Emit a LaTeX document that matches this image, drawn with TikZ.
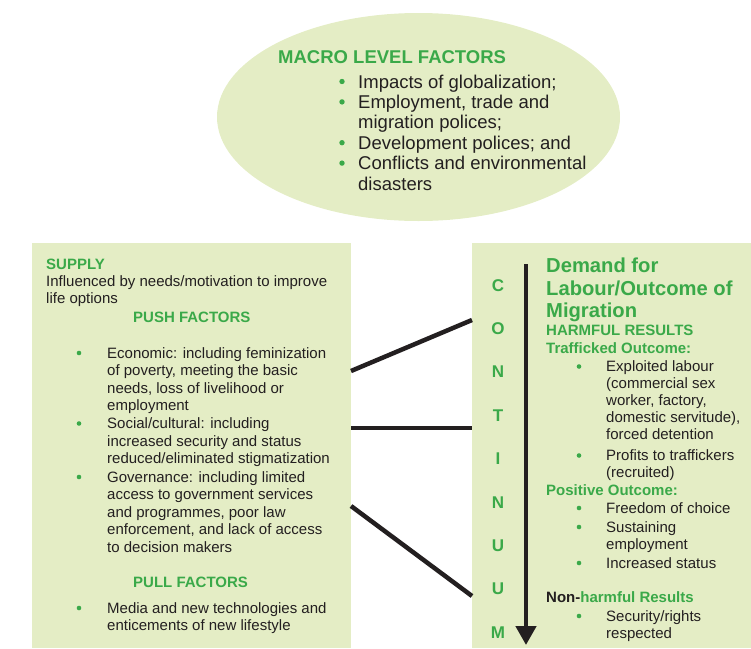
\documentclass[tikz,border=0pt]{standalone}
\usepackage{fontspec}
\setmainfont{Liberation Sans}
\usetikzlibrary{shapes.geometric,arrows.meta}
\definecolor{boxfill}{HTML}{E4EDC5}
\definecolor{lgreen}{HTML}{3AA949}
\definecolor{ink}{HTML}{231F20}
\begin{document}
\begin{tikzpicture}[x=1pt,y=-1pt,
  txt/.style={inner sep=0pt, anchor=base west, text=ink, font=\fontsize{15}{18}\selectfont},
  hd/.style={txt, text=lgreen, font=\fontsize{15}{18}\selectfont\bfseries},
  big/.style={txt, text=lgreen, font=\fontsize{20.2}{24}\selectfont\bfseries},
  etxt/.style={txt, font=\fontsize{18.5}{21}\selectfont},
  ehd/.style={txt, text=lgreen, font=\fontsize{18.5}{21}\selectfont\bfseries},
  letter/.style={inner sep=0pt, anchor=base, text=lgreen, font=\fontsize{17}{19}\selectfont\bfseries},
  panel/.style={fill=boxfill, draw=none, inner sep=0pt, anchor=north west},
  link/.style={draw=ink, line width=4.5pt},
  arr/.style={draw=ink, line width=4.5pt, -{Triangle[width=20pt,length=19pt]}},
  dot/.style={fill=lgreen}]

\useasboundingbox (0,0) rectangle (751,648);

% shapes
\node[ellipse, fill=boxfill, draw=none, minimum width=403pt, minimum height=208pt, inner sep=0pt] (macro) at (418.5,117) {};
\node[panel, minimum width=319pt, minimum height=405pt] (supply) at (32,243) {};
\node[panel, minimum width=279pt, minimum height=405pt] (demand) at (472,243) {};

% ellipse text
\node[ehd] (macrohd) at (278,63) {MACRO LEVEL FACTORS};
\node[etxt] (m1) at (358,88) {Impacts of globalization;};
\node[etxt] (m2) at (358,108.4) {Employment, trade and};
\node[etxt] (m3) at (358,128.8) {migration polices;};
\node[etxt] (m4) at (358,149.2) {Development polices; and};
\node[etxt] (m5) at (358,169.6) {Conflicts and environmental};
\node[etxt] (m6) at (358,190) {disasters};
\fill[dot] (342,81.5) circle (2.7);
\fill[dot] (342,101.9) circle (2.7);
\fill[dot] (342,142.7) circle (2.7);
\fill[dot] (342,163.1) circle (2.7);

% left panel text
\node[hd] (supplyhd) at (46,269) {SUPPLY};
\node[txt] (infl1) at (46,286.5) {Influenced by needs/motivation to improve};
\node[txt] (infl2) at (46,303) {life options};
\node[hd] (pushhd) at (133,322) {PUSH FACTORS};
\node[txt] (p1) at (107,358) {Economic: including feminization};
\node[txt] (p2) at (107,375.5) {of poverty, meeting the basic};
\node[txt] (p3) at (107,393) {needs, loss of livelihood or};
\node[txt] (p4) at (107,410.5) {employment};
\node[txt] (p5) at (107,428.5) {Social/cultural: including};
\node[txt] (p6) at (107,446) {increased security and status};
\node[txt] (p7) at (107,463.5) {reduced/eliminated stigmatization};
\node[txt] (p8) at (107,482) {Governance: including limited};
\node[txt] (p9) at (107,499.5) {access to government services};
\node[txt] (p10) at (107,517) {and programmes, poor law};
\node[txt] (p11) at (107,534.5) {enforcement, and lack of access};
\node[txt] (p12) at (107,552) {to decision makers};
\node[hd] (pullhd) at (133,587) {PULL FACTORS};
\node[txt] (q1) at (107,613) {Media and new technologies and};
\node[txt] (q2) at (107,630) {enticements of new lifestyle};
\fill[dot] (79,353) circle (2.3);
\fill[dot] (79,423.5) circle (2.3);
\fill[dot] (79,477) circle (2.3);
\fill[dot] (79,608) circle (2.3);

% right panel text
\node[big] (d1) at (546,272.5) {Demand for};
\node[big] (d2) at (546,295) {Labour/Outcome of};
\node[big] (d3) at (546,317.5) {Migration};
\node[hd] (harmhd) at (546,335) {HARMFUL RESULTS};
\node[hd] (traffhd) at (546,353) {Trafficked Outcome:};
\node[txt] (t1) at (606,371.5) {Exploited labour};
\node[txt] (t2) at (606,388.5) {(commercial sex};
\node[txt] (t3) at (606,405.5) {worker, factory,};
\node[txt] (t4) at (606,422.5) {domestic servitude),};
\node[txt] (t5) at (606,439.5) {forced detention};
\node[txt] (t6) at (606,460.5) {Profits to traffickers};
\node[txt] (t7) at (606,477) {(recruited)};
\node[hd] (poshd) at (546,495) {Positive Outcome:};
\node[txt] (o1) at (606,513) {Freedom of choice};
\node[txt] (o2) at (606,532) {Sustaining};
\node[txt] (o3) at (606,549) {employment};
\node[txt] (o4) at (606,568) {Increased status};
\node[hd] (nonhd) at (546,602) {\textcolor{ink}{Non-}harmful Results};
\node[txt] (n1) at (606,621) {Security/rights};
\node[txt] (n2) at (606,638) {respected};
\fill[dot] (579,366.5) circle (2.3);
\fill[dot] (579,455.5) circle (2.3);
\fill[dot] (579,508) circle (2.3);
\fill[dot] (579,527) circle (2.3);
\fill[dot] (579,563) circle (2.3);
\fill[dot] (579,616) circle (2.3);

% continuum letters
\node[letter] (c1) at (498,291) {C};
\node[letter] (c2) at (498,334.4) {O};
\node[letter] (c3) at (498,377.8) {N};
\node[letter] (c4) at (498,421.2) {T};
\node[letter] (c5) at (498,464.6) {I};
\node[letter] (c6) at (498,508) {N};
\node[letter] (c7) at (498,551.4) {U};
\node[letter] (c8) at (498,594.8) {U};
\node[letter] (c9) at (498,638.2) {M};

% continuum arrow
\coordinate (atop) at (526,264);
\coordinate (abot) at (526,645);
\draw[arr] (atop) -- (abot);

% connectors
\coordinate (s1) at (351,371);
\coordinate (s2) at (351,428);
\coordinate (s3) at (351,506);
\coordinate (e1) at (472,320);
\coordinate (e2) at (472,428);
\coordinate (e3) at (472,596);
\draw[link] (s1) -- (e1);
\draw[link] (s2) -- (e2);
\draw[link] (s3) -- (e3);
\end{tikzpicture}
\end{document}
